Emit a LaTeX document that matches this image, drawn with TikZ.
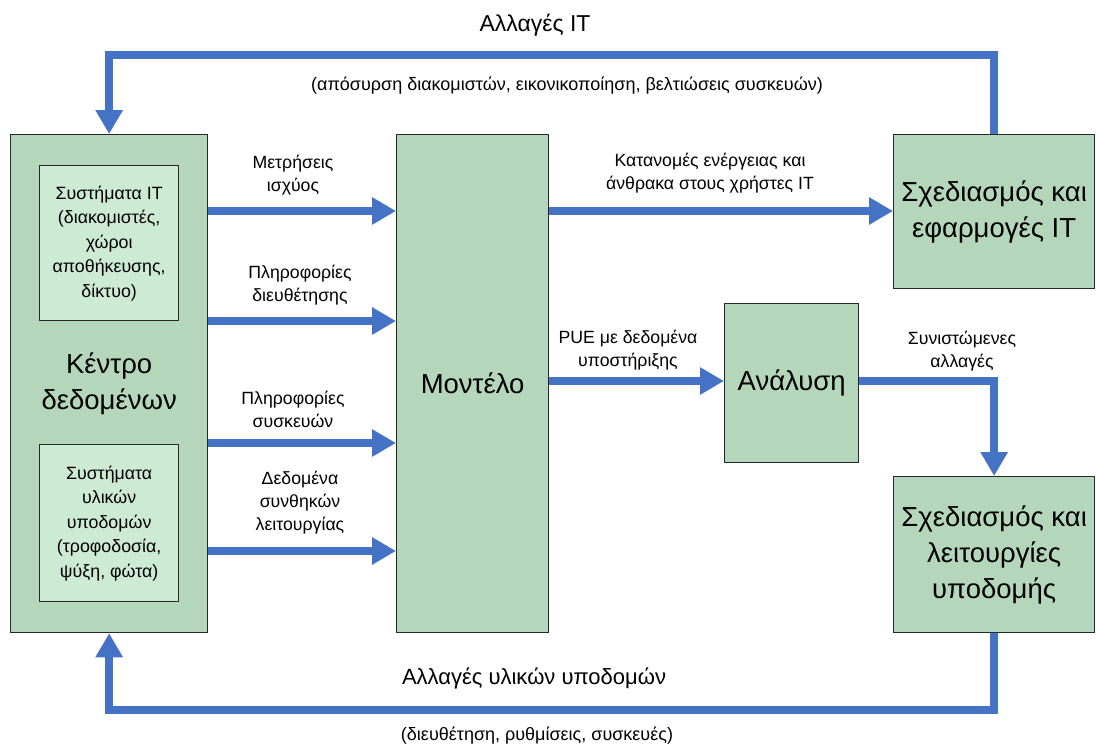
\documentclass[tikz,border=0pt]{standalone}
\usepackage{fontspec}
\setmainfont{Liberation Sans}
\usetikzlibrary{arrows.meta}
\definecolor{boxgreen}{RGB}{180,215,187}
\definecolor{innergreen}{RGB}{205,235,212}
\definecolor{arrblue}{RGB}{68,114,196}
\definecolor{edge}{RGB}{40,40,40}
\tikzset{
  box/.style={draw=edge, line width=1.3pt, fill=boxgreen, anchor=north west, inner sep=0pt, align=center},
  innerbox/.style={draw=edge, line width=1.3pt, fill=innergreen, anchor=north west, inner sep=0pt, align=center},
  bigtext/.style={font=\fontsize{27.5}{36}\selectfont},
  midtext/.style={font=\fontsize{17.8}{24.5}\selectfont},
  lbl/.style={font=\fontsize{17.7}{23}\selectfont, align=center, inner sep=0pt},
  arr/.style={draw=arrblue, line width=8pt, -{Triangle[length=24pt,width=26pt]}},
}
\begin{document}
\begin{tikzpicture}[x=1pt,y=-1pt]
\useasboundingbox (0,0) rectangle (1096,747);
% boxes
\node[box, minimum width=197pt, minimum height=498pt, bigtext] (dc) at (10,134) {Κέντρο\\δεδομένων};
\node[innerbox, minimum width=139pt, minimum height=155pt, midtext] (its) at (39,165) {Συστήματα IT\\(διακομιστές,\\χώροι\\αποθήκευσης,\\δίκτυο)};
\node[innerbox, minimum width=139pt, minimum height=157pt, midtext] (infs) at (39,444) {Συστήματα\\υλικών\\υποδομών\\(τροφοδοσία,\\ψύξη, φώτα)};
\node[box, minimum width=152pt, minimum height=498pt, bigtext] (model) at (396,134) {Μοντέλο};
\node[box, minimum width=201pt, minimum height=154pt, bigtext] (itapp) at (893,134) {Σχεδιασμός και\\εφαρμογές IT};
\node[box, minimum width=134pt, minimum height=159pt, bigtext] (anal) at (724,303) {Ανάλυση};
\node[box, minimum width=201pt, minimum height=156pt, bigtext] (infop) at (893,476) {Σχεδιασμός και\\λειτουργίες\\υποδομής};
% coordinates for connector levels
\coordinate (r1) at (0,211);
\coordinate (r2) at (0,321);
\coordinate (r3) at (0,443);
\coordinate (r4) at (0,551);
\coordinate (ra) at (0,381);
\coordinate (top) at (0,55);
\coordinate (bot) at (0,710);
% connectors
\draw[arr] (dc.east |- r1) -- (model.west |- r1);
\draw[arr] (dc.east |- r2) -- (model.west |- r2);
\draw[arr] (dc.east |- r3) -- (model.west |- r3);
\draw[arr] (dc.east |- r4) -- (model.west |- r4);
\draw[arr] (model.east |- r1) -- (itapp.west |- r1);
\draw[arr] (model.east |- ra) -- (anal.west |- ra);
\draw[arr] (anal.east |- ra) -| (infop.north);
\draw[arr] (itapp.north) -- (itapp.north |- top) -| (dc.north);
\draw[arr] (infop.south) -- (infop.south |- bot) -| (dc.south);
% labels
\node[lbl] (l1) at (293,175) {Μετρήσεις\\ισχύος};
\node[lbl] (l2) at (300,285) {Πληροφορίες\\διευθέτησης};
\node[lbl] (l3) at (293,409) {Πληροφορίες\\συσκευών};
\node[lbl] (l4) at (300,503) {Δεδομένα\\συνθηκών\\λειτουργίας};
\node[lbl] (l5) at (710,173) {Κατανομές ενέργειας και\\άνθρακα στους χρήστες IT};
\node[lbl] (l6) at (628,350) {PUE με δεδομένα\\υποστήριξης};
\node[lbl] (l7) at (962,351) {Συνιστώμενες\\αλλαγές};
\node[lbl, font=\fontsize{23}{26}\selectfont] (t1) at (535,25) {Αλλαγές IT};
\node[lbl, font=\fontsize{18}{20}\selectfont] (t2) at (567,86) {(απόσυρση διακομιστών, εικονικοποίηση, βελτιώσεις συσκευών)};
\node[lbl, font=\fontsize{22}{24}\selectfont] (b1) at (534,678) {Αλλαγές υλικών υποδομών};
\node[lbl, font=\fontsize{18}{20}\selectfont] (b2) at (537,736) {(διευθέτηση, ρυθμίσεις, συσκευές)};
\end{tikzpicture}
\end{document}
